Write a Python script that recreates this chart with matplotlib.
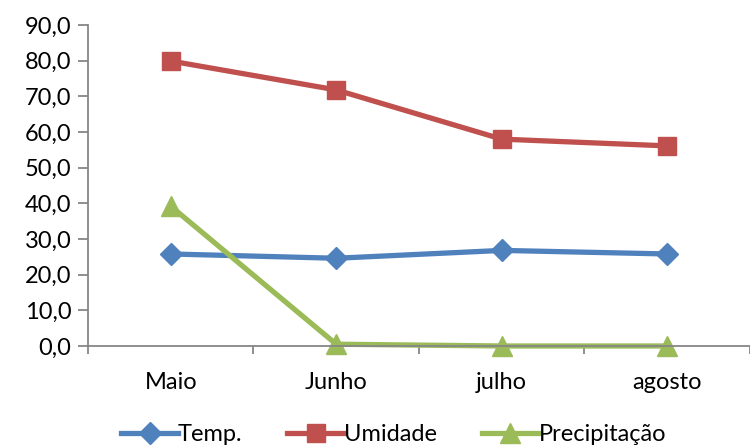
import matplotlib.pyplot as plt
from matplotlib.ticker import FuncFormatter

# Monthly values
months = ["Maio", "Junho", "julho", "agosto"]
temp = [25.8, 24.6, 26.8, 25.8]
umidade = [79.9, 71.8, 58.0, 56.1]
precipitacao = [39.2, 0.5, 0.0, 0.0]

plt.rcParams['font.family'] = ['Lato', 'DejaVu Sans']

fig = plt.figure(figsize=(7.5, 4.48), dpi=100)
ax = fig.add_axes([0.1173, 0.2277, 0.8827, 0.7165])

x = range(len(months))
ax.plot(x, temp, color="#4F81BD", lw=3.8, marker="D", ms=11, label="Temp.")
ax.plot(x, umidade, color="#C0504D", lw=3.8, marker="s", ms=12.5, label="Umidade")
ax.plot(x, precipitacao, color="#9BBB59", lw=3.8, marker="^", ms=14, label="Precipitação",
        clip_on=False)

ax.set_xlim(-0.5, 3.5)
ax.set_ylim(0, 90)
ax.set_yticks(range(0, 91, 10))
ax.yaxis.set_major_formatter(FuncFormatter(lambda v, p: f"{v:.1f}".replace(".", ",")))

# category labels centred, tick marks between categories
ax.set_xticks([i - 0.5 for i in range(len(months) + 1)])
ax.set_xticklabels([])
ax.set_xticks(list(x), minor=True)
ax.set_xticklabels(months, minor=True)
ax.tick_params(axis="x", which="minor", length=0, pad=19, labelsize=17)
ax.tick_params(axis="x", which="major", length=6, width=1.3, color="#868686", direction="out")
ax.tick_params(axis="y", length=7, width=1.3, color="#868686", labelsize=17, pad=5)

for side in ["top", "right"]:
    ax.spines[side].set_visible(False)
for side in ["left", "bottom"]:
    ax.spines[side].set_color("#868686")
    ax.spines[side].set_linewidth(1.3)

leg = fig.legend(loc="center", bbox_to_anchor=(0.525, 0.03), ncol=3, frameon=False,
                 fontsize=17, handlelength=2.4, columnspacing=1.9, handletextpad=0.0,
                 borderpad=0, borderaxespad=0)

fig.savefig("out.png", dpi=100)
